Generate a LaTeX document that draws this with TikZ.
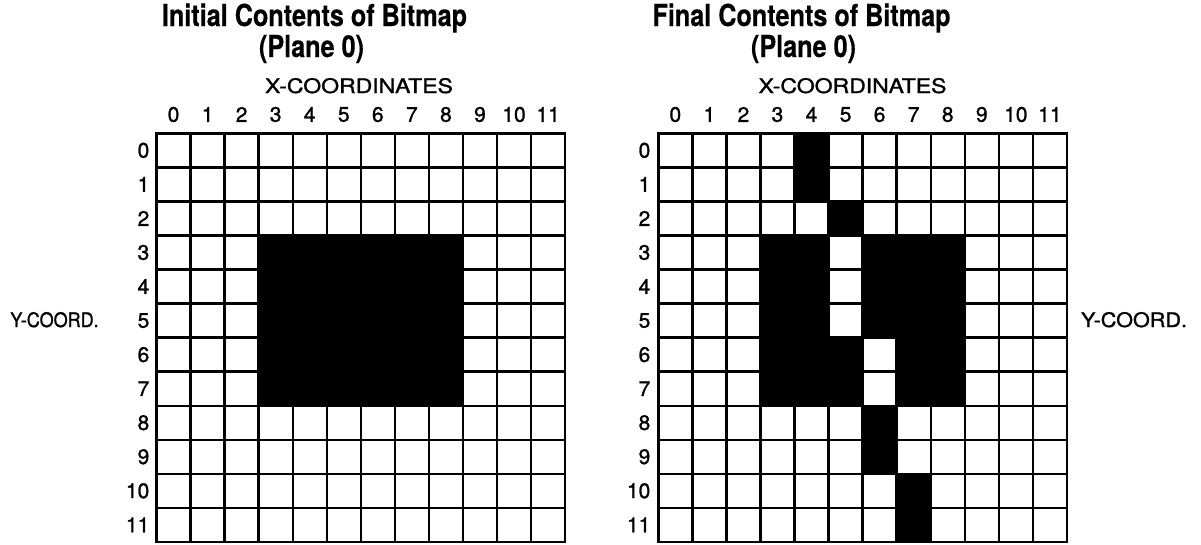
\documentclass[tikz,border=0pt]{standalone}
\usepackage{fontspec}
\setmainfont{TeX Gyre Heros}
\newfontfamily\regfont[FakeBold=1.2]{TeX Gyre Heros}
\newfontfamily\titlefont[FakeBold=0.4]{TeX Gyre Heros Bold}
\usepackage{graphicx}
\begin{document}
\begin{tikzpicture}[x=1pt,y=-1pt,
  titletext/.style={font=\fontsize{25.2}{25.2}\titlefont, inner sep=0pt, anchor=base},
  axistext/.style={font=\fontsize{20}{20}\regfont, inner sep=0pt, anchor=base},
  ytext/.style={font=\fontsize{20}{20}\regfont, inner sep=0pt, anchor=base},
  numtext/.style={font=\fontsize{21}{21}\regfont, inner sep=0pt},
  gridline/.style={line width=2.4pt, line cap=rect},
  bitcell/.style={fill=black}]
\useasboundingbox (0,0) rectangle (1201,544);
\def\cw{34.05}
\def\gy{133.3}
% ---------- Left bitmap (initial) ----------
\def\gxa{156.5}
\fill[bitcell] (\gxa+3*\cw,\gy+3*\cw) rectangle (\gxa+9*\cw,\gy+8*\cw);
\foreach \i in {0,...,12}{
  \draw[gridline] (\gxa+\i*\cw,\gy) -- (\gxa+\i*\cw,\gy+12*\cw);
  \draw[gridline] (\gxa,\gy+\i*\cw) -- (\gxa+12*\cw,\gy+\i*\cw);
}
\foreach \i in {0,...,11}{
  \node[numtext] (lc\i) at (\gxa+\i*\cw+0.5*\cw,114.5) {\i};
  \node[numtext, anchor=east] (lr\i) at (149.5,\gy+\i*\cw+0.5*\cw) {\i};
}
\node[titletext] (ltitle) at (314.5,26) {\scalebox{1}[1.2]{Initial Contents of Bitmap}};
\node[titletext] (lplane) at (311.5,57) {\scalebox{1}[1.2]{(Plane 0)}};
\node[axistext] (lxaxis) at (359,93) {\scalebox{1.15}[1]{X-COORDINATES}};
\node[ytext] (lyaxis) at (54.5,327) {\scalebox{0.9}[1]{Y-COORD.}};
% ---------- Right bitmap (final) ----------
\def\gxb{658.3}
\foreach \c/\r in {4/0,4/1,5/2,
  3/3,4/3,6/3,7/3,8/3, 3/4,4/4,6/4,7/4,8/4, 3/5,4/5,6/5,7/5,8/5,
  3/6,4/6,5/6,7/6,8/6, 3/7,4/7,5/7,7/7,8/7,
  6/8,6/9,7/10,7/11}{
  \fill[bitcell] (\gxb+\c*\cw,\gy+\r*\cw) rectangle +(\cw,\cw);
}
\foreach \i in {0,...,12}{
  \draw[gridline] (\gxb+\i*\cw,\gy) -- (\gxb+\i*\cw,\gy+12*\cw);
  \draw[gridline] (\gxb,\gy+\i*\cw) -- (\gxb+12*\cw,\gy+\i*\cw);
}
\foreach \i in {0,...,11}{
  \node[numtext] (rc\i) at (\gxb+\i*\cw+0.5*\cw,114.5) {\i};
  \node[numtext, anchor=east] (rr\i) at (650.5,\gy+\i*\cw+0.5*\cw) {\i};
}
\node[titletext] (rtitle) at (801.5,26) {\scalebox{1}[1.2]{Final Contents of Bitmap}};
\node[titletext] (rplane) at (803.5,57) {\scalebox{1}[1.2]{(Plane 0)}};
\node[axistext] (rxaxis) at (852.5,93) {\scalebox{1.15}[1]{X-COORDINATES}};
\node[ytext] (ryaxis) at (1134,327) {\scalebox{1.08}[1]{Y-COORD.}};
\end{tikzpicture}
\end{document}
